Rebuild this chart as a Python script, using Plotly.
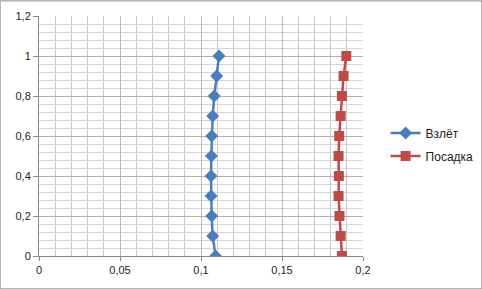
import plotly.graph_objects as go

heights = [0, 0.1, 0.2, 0.3, 0.4, 0.5, 0.6, 0.7, 0.8, 0.9, 1.0]
takeoff_x = [0.109, 0.1072, 0.1066, 0.1062, 0.1062, 0.1064, 0.1066, 0.1072, 0.1082, 0.1097, 0.1111]
landing_x = [0.187, 0.1862, 0.1855, 0.1849, 0.1851, 0.1849, 0.1853, 0.1862, 0.187, 0.188, 0.1897]
names = ["Взлёт", "Посадка"]

fig = go.Figure()
fig.add_trace(go.Scatter(x=takeoff_x, y=heights, name=names[0], mode="lines+markers",
                         legendgroup="a",
                         line=dict(color="#4A7EBB", width=2.5),
                         marker=dict(symbol="diamond", size=10, color="#4A7EBB")))
fig.add_trace(go.Scatter(x=landing_x, y=heights, name=names[1], mode="lines+markers",
                         legendgroup="b",
                         line=dict(color="#BE4B48", width=2.5),
                         marker=dict(symbol="square", size=10, color="#BE4B48")))

fig.update_layout(
    width=482, height=289,
    margin=dict(l=39, r=119, t=16, b=33, autoexpand=False),
    paper_bgcolor="white", plot_bgcolor="white",
    separators=", ",
    font=dict(family="Liberation Sans, Arial", size=11, color="#222"),
    showlegend=True,
    legend=dict(xref="container", yref="container", x=0.8, y=0.5,
                xanchor="left", yanchor="middle",
                font=dict(size=12), tracegroupgap=4, itemwidth=30),
    xaxis=dict(range=[0, 0.2], dtick=0.05, tick0=0, showgrid=True, gridcolor="#BBBBBB",
               gridwidth=1, zeroline=False, showline=True, linecolor="#888",
               ticks="outside", ticklen=4, tickcolor="#888",
               minor=dict(dtick=0.01, showgrid=True, gridcolor="#C8C8C8", ticks=""),
               fixedrange=True),
    yaxis=dict(range=[0, 1.2], dtick=0.2, tick0=0, showgrid=True, gridcolor="#B0B0B0",
               gridwidth=1, zeroline=False, showline=True, linecolor="#888",
               ticks="outside", ticklen=5, tickcolor="#888",
               minor=dict(dtick=0.04, showgrid=True, gridcolor="#D6D6D6", ticks=""),
               fixedrange=True),
    shapes=[dict(type="rect", xref="paper", yref="paper", x0=-0.12, x1=1.367,
                 y0=-0.137, y1=1.063, line=dict(color="#8A8A8A", width=1))],
)

fig.write_html("out.html")
